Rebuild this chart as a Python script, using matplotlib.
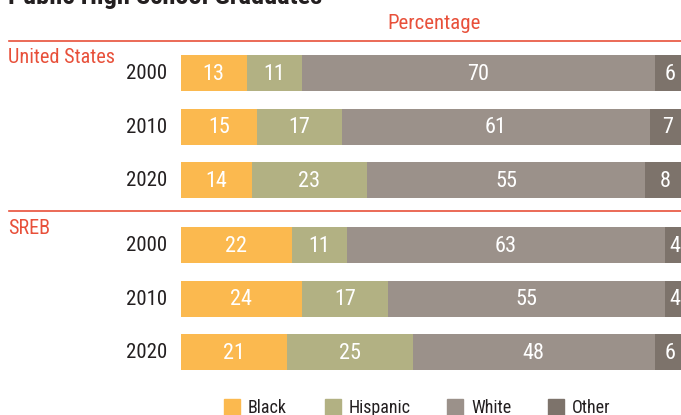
import matplotlib
matplotlib.use("Agg")
import matplotlib.pyplot as plt

groups = ["United States", "SREB"]
years = ["2000", "2010", "2020"]
categories = ["Black", "Hispanic", "White", "Other"]
black = [13, 15, 14, 22, 24, 21]
hispanic = [11, 17, 23, 11, 17, 25]
white = [70, 61, 55, 63, 55, 48]
other = [6, 7, 8, 4, 4, 6]
colors = ["#FBB94F", "#B2B183", "#9B918A", "#7D736B"]
RED = "#E8503A"
DARK = "#231F20"

plt.rcParams["font.family"] = ["Roboto Condensed", "Archivo Narrow", "DejaVu Sans"]

W, H = 681, 415
fig = plt.figure(figsize=(W / 100, H / 100), dpi=100)
ax = fig.add_axes([181 / W, 0, 504 / W, 1])
ax.set_xlim(0, 100)
ax.set_ylim(H, 0)
ax.axis("off")

pitch = 53.6
gap = 65
first = 73
ypos = []
for g in range(len(groups)):
    for k in range(len(years)):
        ypos.append(first + g * (2 * pitch + gap) + k * pitch)

series = [black, hispanic, white, other]
left = [0] * len(ypos)
for vals, c in zip(series, colors):
    ax.barh(ypos, vals, left=left, height=36, color=c, linewidth=0)
    for y, l, v in zip(ypos, left, vals):
        ax.text(l + v / 2, y + 1, str(v), ha="center", va="center",
                color="white", fontsize=16)
    left = [a + b for a, b in zip(left, vals)]

def fx(x):
    return x / W

def fy(y):
    return 1 - y / H

for i, y in enumerate(ypos):
    fig.text(fx(167), fy(y + 0.5), years[i % 3], ha="right", va="center",
             fontsize=15, color=DARK)

group_label_y = [57.5, 228]
line_y = [41, 211]
for g, name in enumerate(groups):
    fig.text(fx(8), fy(group_label_y[g]), name, ha="left", va="center",
             fontsize=14.6, color=RED)
    fig.add_artist(plt.Line2D([fx(9), 1], [fy(line_y[g])] * 2,
                              color=RED, linewidth=1.2,
                              transform=fig.transFigure))

fig.text(fx(434), fy(23.5), "Percentage", ha="center", va="center",
         fontsize=15, color=RED)
fig.text(fx(8), fy(4), "Public High School Graduates", ha="left",
         va="baseline", fontsize=19, fontweight="bold", color=DARK)

leg_x = [224, 325, 447, 548]
for x, c, lab in zip(leg_x, colors, categories):
    fig.add_artist(plt.Rectangle((fx(x), fy(415)), 16 / W, 16 / H,
                                 color=c, transform=fig.transFigure))
    fig.text(fx(x + 24), fy(407.5), lab, ha="left", va="center",
             fontsize=13, color=DARK)

fig.savefig("out.png", dpi=100)
